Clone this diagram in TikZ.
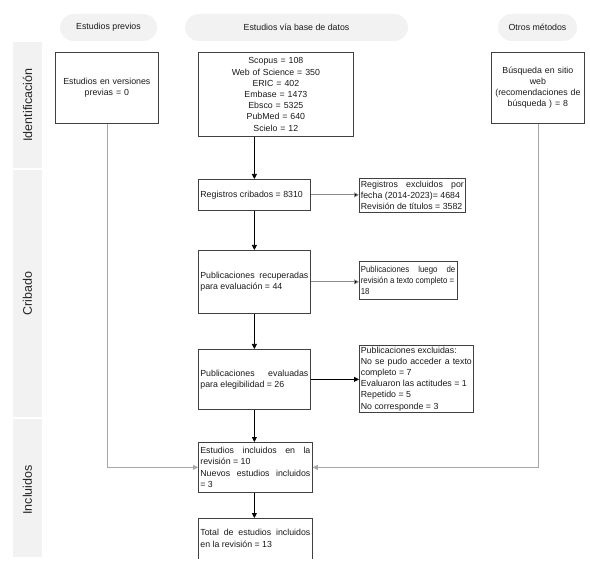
\documentclass[tikz,border=0pt]{standalone}
\usepackage{fontspec}
\setmainfont{Liberation Sans}
\newfontfamily\narrowfont[FakeStretch=0.89]{Liberation Sans}
\usetikzlibrary{arrows.meta}
\definecolor{panel}{HTML}{F2F2F2}
\definecolor{boxline}{HTML}{404040}
\definecolor{sideline}{HTML}{A6A6A6}
\definecolor{midline}{HTML}{8C8C8C}
\tolerance=10000 \hyphenpenalty=10000 \hbadness=10000 \hfuzz=2pt
\begin{document}
\begin{tikzpicture}[x=1pt,y=-1pt,
  txt/.style={font=\fontsize{8.8}{11.2}\selectfont, text=black!90},
  box/.style={draw=boxline, line width=0.75pt, inner xsep=2pt, inner ysep=1pt, anchor=north west, txt},
  cbox/.style={box, align=center},
  jbox/.style={box, align=justify},
  pill/.style={fill=panel, rounded corners=13.5pt, inner sep=0pt, minimum height=27pt, txt},
  bar/.style={fill=panel, inner sep=0pt, minimum width=29pt},
  stage/.style={rotate=90, font=\fontsize{12.5}{14}\selectfont, text=black!85},
  arr/.style={line width=0.75pt, draw=black, -{Triangle[length=5pt,width=5pt]}},
  sidearr/.style={line width=0.75pt, draw=sideline, -{Triangle[length=5pt,width=5pt]}},
  midarr/.style={line width=0.75pt, draw=midline, -{Triangle[length=5pt,width=5pt,fill=black]}}
]
\useasboundingbox (0,0) rectangle (590,567);

% header pills
\node[pill, minimum width=97pt] (h1) at (108.5,27.5) {Estudios previos};
\node[pill, minimum width=223pt] (h2) at (296.5,27.5) {Estudios vía base de datos};
\node[pill, minimum width=79pt] (h3) at (537.5,27.5) {Otros métodos};

% stage bars
\node[bar, minimum height=126pt] (b1) at (27.5,105) {};
\node[bar, minimum height=247pt] (b2) at (27.5,293.5) {};
\node[bar, minimum height=138pt] (b3) at (27.5,488) {};
\node[stage] (s1) at (b1.center) {Identificación};
\node[stage] (s2) at (b2.center) {Cribado};
\node[stage] (s3) at (27.5,490) {Incluidos};

% boxes
\node[cbox, minimum width=103pt, text width=99pt, minimum height=71pt] (prev) at (55,52)
  {Estudios en versiones\\ previas = 0};
\node[cbox, minimum width=155pt, text width=151pt, minimum height=84pt] (db) at (198,52)
  {Scopus = 108\\ Web of Science = 350\\ ERIC = 402\\ Embase = 1473\\ Ebsco = 5325\\ PubMed = 640\\ Scielo = 12};
\node[cbox, minimum width=93pt, text width=91pt, inner xsep=1pt, minimum height=71pt] (otros) at (491,52)
  {Búsqueda en sitio\\ web\\ (recomendaciones de\\ búsqueda ) = 8};

\node[jbox, text width=108pt, minimum height=31pt] (crib) at (198,179)
  {Registros cribados = 8310};
\node[jbox, inner xsep=1.5pt, text width=103pt, minimum height=34pt] (excl1) at (359,178)
  {Registros excluidos por\linebreak fecha (2014-2023)= 4684\\ Revisión de títulos = 3582};

\node[jbox, text width=108pt, minimum height=63pt] (recup) at (198,250)
  {Publicaciones recuperadas\linebreak para evaluación = 44};
\node[jbox, inner xsep=1.5pt, text width=94.5pt, minimum height=38pt, font=\narrowfont\fontsize{8.8}{11.4}\selectfont] (excl2) at (359,261)
  {Publicaciones luego de\linebreak revisión a texto completo =\\ 18};

\node[jbox, text width=108pt, minimum height=60pt] (pubeval) at (198,349)
  {Publicaciones evaluadas\linebreak para elegibilidad = 26};
\node[jbox, inner xsep=1.5pt, text width=111pt, minimum height=67pt] (excl3) at (359,345)
  {Publicaciones excluidas:\\ No se pudo acceder a texto\linebreak completo = 7\\ Evaluaron las actitudes = 1\\ Repetido = 5\\ No corresponde = 3};

\node[jbox, text width=110pt, minimum height=50pt] (estincl) at (198,442)
  {Estudios incluidos en la\linebreak revisión = 10\\ Nuevos estudios incluidos\linebreak = 3};
\node[jbox, draw=none, text width=110pt, minimum height=40pt] (total) at (198,518)
  {Total de estudios incluidos\linebreak en la revisión = 13};
\draw[draw=boxline, line width=0.75pt] (total.south west) -- (total.north west) -- (total.north east) -- (total.south east);

% connectors
\draw[arr] (db.south -| crib.north) -- (crib.north);
\draw[arr] (crib.south) -- (recup.north);
\draw[arr] (recup.south) -- (pubeval.north);
\draw[arr] (pubeval.south) -- (pubeval.south |- estincl.north);
\draw[arr] (estincl.south -| pubeval.south) -- (pubeval.south |- total.north);

\draw[midarr] (crib.east) -- (crib.east -| excl1.west);
\draw[midarr] (recup.east) -- (recup.east -| excl2.west);
\draw[arr] (pubeval.east) -- (pubeval.east -| excl3.west);

\draw[sidearr] (prev.south) |- (estincl.west);
\draw[sidearr] (otros.south) |- (estincl.east);
\end{tikzpicture}
\end{document}
